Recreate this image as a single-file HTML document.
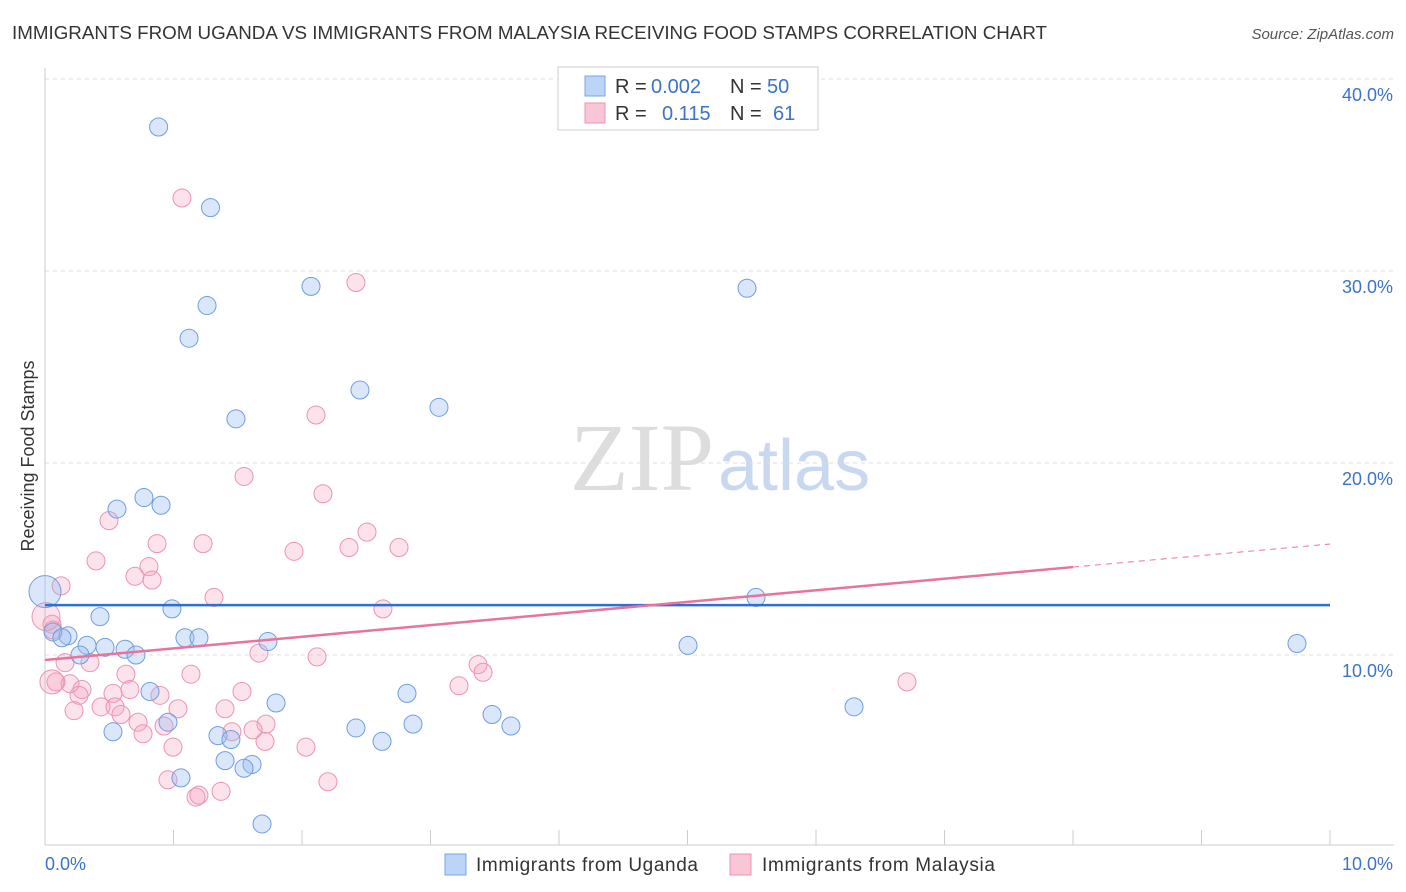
<!DOCTYPE html>
<html><head><meta charset="utf-8"><style>
body{margin:0;background:#fff;font-family:"Liberation Sans",sans-serif;}
#wrap{position:relative;width:1406px;height:892px;overflow:hidden}
</style></head><body>
<div id="wrap">
<svg id="svg" width="1406" height="892">
<text x="12" y="39" font-size="18" fill="#333" textLength="1035" lengthAdjust="spacingAndGlyphs">IMMIGRANTS FROM UGANDA VS IMMIGRANTS FROM MALAYSIA RECEIVING FOOD STAMPS CORRELATION CHART</text>
<text x="1394" y="39" font-size="15" fill="#555" font-style="italic" text-anchor="end">Source: ZipAtlas.com</text>
<text x="714" y="490" font-size="96" fill="#ddd" font-family="Liberation Serif" text-anchor="end">ZIP</text>
<text x="718" y="490" font-size="72" fill="#c8d8f0">atlas</text>
<text transform="translate(34,456) rotate(-90)" font-size="18" fill="#333" text-anchor="middle">Receiving Food Stamps</text>
<g id="grid"></g><g id="pts"></g><g id="lines"></g>
<rect x="558" y="67" width="260" height="63" fill="#fff" stroke="#ccc"/>
<rect x="585" y="76" width="20" height="20" fill="#bcd4f6" stroke="#7aa6e6"/>
<rect x="585" y="103" width="20" height="20" fill="#f9c6d6" stroke="#ec93b0"/>
<g font-size="20">
<text x="615" y="93" fill="#333">R =</text><text x="651" y="93" fill="#3a73c9">0.002</text>
<text x="730" y="93" fill="#333">N =</text><text x="767" y="93" fill="#3a73c9">50</text></g>
<g font-size="20">
<text x="615" y="120" fill="#333">R =</text><text x="662" y="120" fill="#3a73c9">0.115</text>
<text x="730" y="120" fill="#333">N =</text><text x="773" y="120" fill="#3a73c9">61</text></g>
<rect x="445" y="854" width="21" height="21" fill="#bcd4f6" stroke="#7aa6e6"/>
<text x="476" y="871" font-size="19" fill="#333" textLength="222">Immigrants from Uganda</text>
<rect x="730" y="854" width="21" height="21" fill="#f9c6d6" stroke="#ec93b0"/>
<text x="762" y="871" font-size="19" fill="#333" textLength="233">Immigrants from Malaysia</text>
</svg></div>
<script>
const yTicks=[10,20,30,40];
const yTickLabels=["10.0%","20.0%","30.0%","40.0%"];
const xTickLabels=["0.0%","10.0%"];
const ugX=[0.884,1.288,1.261,1.121,2.070,5.463,2.451,3.066,1.486,0.770,0.560,0.903,5.533,0.988,0.428,0.062,0.179,0.132,0.327,0.467,0.623,0.272,0.708,1.089,1.198,1.735,5.004,9.743,0.817,2.817,1.798,6.296,0.957,3.479,2.864,2.420,3.626,0.529,1.346,1.447,2.623,1.401,1.611,1.549,1.058,1.689,0.0];
const ugY=[37.5,33.3,28.2,26.5,29.2,29.1,23.8,22.9,22.3,18.2,17.6,17.8,13.0,12.4,12.0,11.2,11.0,10.9,10.5,10.4,10.3,10.0,10.0,10.9,10.9,10.7,10.5,10.6,8.1,8.0,7.5,7.3,6.5,6.9,6.4,6.2,6.3,6.0,5.8,5.6,5.5,4.5,4.3,4.1,3.6,1.2,13.3];
const ugR=[9,9,9,9,9,9,9,9,9,9,9,9,9,9,9,9,9,9,9,9,9,9,9,9,9,9,9,9,9,9,9,9,9,9,9,9,9,9,9,9,9,9,9,9,9,9,16];
const myX=[1.066,2.420,2.109,1.549,2.163,0.498,2.506,0.397,0.872,1.230,1.938,2.366,2.755,0.700,0.809,0.833,0.125,1.315,2.630,0.054,0.062,1.665,2.117,0.156,0.350,3.370,3.409,1.136,0.630,3.222,6.708,0.086,0.195,0.288,0.265,0.661,0.529,0.895,1.533,0.226,0.436,0.545,0.591,1.035,1.401,0.724,0.926,1.720,1.455,1.619,0.763,1.712,0.996,2.031,0.957,2.202,1.175,1.198,1.370,0.008,0.054];
const myY=[33.8,29.4,22.5,19.3,18.4,17.0,16.4,14.9,15.8,15.8,15.4,15.6,15.6,14.1,14.6,13.9,13.6,13.0,12.4,11.6,11.3,10.1,9.9,9.6,9.6,9.5,9.1,9.0,9.0,8.4,8.6,8.6,8.5,8.2,7.9,8.2,8.0,7.9,8.1,7.1,7.3,7.3,6.9,7.2,7.2,6.5,6.3,6.4,6.0,6.1,5.9,5.5,5.2,5.2,3.5,3.4,2.6,2.7,2.9,12.0,8.6];
const myR=[9,9,9,9,9,9,9,9,9,9,9,9,9,9,9,9,9,9,9,9,9,9,9,9,9,9,9,9,9,9,9,9,9,9,9,9,9,9,9,9,9,9,9,9,9,9,9,9,9,9,9,9,9,9,9,9,9,9,9,14,12];
const ugLine=[12.6,12.6];
const myLine=[9.74,14.58,15.78];
const X=v=>45+v*128.5, Y=v=>847-v*19.2;
const NS="http://www.w3.org/2000/svg";
function mk(t,a,p){const e=document.createElementNS(NS,t);for(const k in a)e.setAttribute(k,a[k]);p.appendChild(e);return e;}
const grid=document.getElementById('grid');
yTicks.forEach((t,i)=>{
 const l=mk('line',{x1:45,x2:1394,y1:Y(t),y2:Y(t),stroke:'#ddd','stroke-dasharray':'4,4'},grid);
 
 
 const tx=mk('text',{x:1393,y:Y(t)+22,'font-size':18,fill:'#3a73c9','text-anchor':'end'},grid);
 tx.textContent=yTickLabels[i];
 
 
});
const ax=mk('line',{x1:45,x2:1394,y1:845,y2:845,stroke:'#ccc'},grid);


const ay=mk('line',{x1:45,x2:45,y1:68,y2:845,stroke:'#ccc'},grid);


for(let i=0;i<=10;i++){
 const t=mk('line',{x1:X(i),x2:X(i),y1:830,y2:845,stroke:'#ccc'},grid);
 
 
}
[[0,'start',45],[1,'end',1393]].forEach(([i,a,x])=>{
 const t=mk('text',{x:x,y:870,'font-size':18,fill:'#3a73c9','text-anchor':a},grid);
 t.textContent=xTickLabels[i];
 
 
});
const pts=document.getElementById('pts');
myX.forEach((x,i)=>{
 const c=mk('circle',{cx:X(x),cy:Y(myY[i]),r:myR[i],fill:'rgba(244,160,190,0.3)',stroke:'#ec93b0','stroke-width':1},pts);
 
 
});
ugX.forEach((x,i)=>{
 const c=mk('circle',{cx:X(x),cy:Y(ugY[i]),r:ugR[i],fill:'rgba(150,185,240,0.35)',stroke:'#6f9ee0','stroke-width':1},pts);
 
 
});
const lines=document.getElementById('lines');
const bl=mk('line',{x1:X(0),x2:X(10),y1:Y(ugLine[0]),y2:Y(ugLine[1]),stroke:'#2e6fd0','stroke-width':2.5},lines);


const pl=mk('line',{x1:X(0),x2:X(8),y1:Y(myLine[0]),y2:Y(myLine[1]),stroke:'#e8739c','stroke-width':2.5},lines);


const pd=mk('line',{x1:X(8),x2:X(10),y1:Y(myLine[1]),y2:Y(myLine[2]),stroke:'#e8739c','stroke-width':1,'stroke-dasharray':'6,5'},lines);


</script>
</body></html>
